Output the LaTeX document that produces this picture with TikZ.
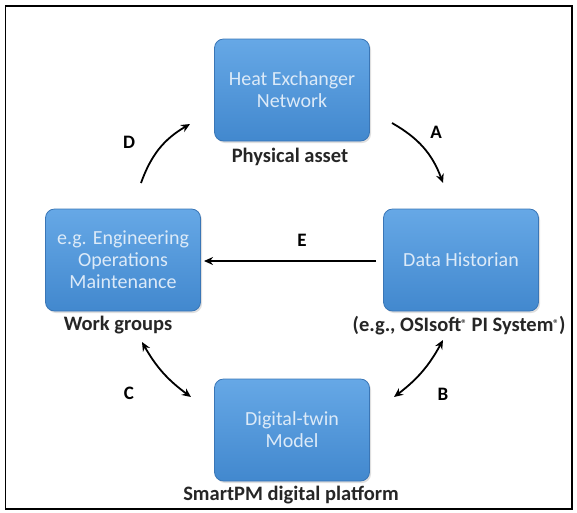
\documentclass[tikz,border=0pt]{standalone}
\usepackage{fontspec}
\setmainfont{Carlito}
\usetikzlibrary{arrows.meta,shadows}
\definecolor{boxtop}{HTML}{66A8E6}
\definecolor{boxbot}{HTML}{4288CE}
\definecolor{boxedge}{HTML}{3A76B6}
\definecolor{boxtext}{HTML}{DCEAF8}
\tikzset{
  bluebox/.style={rectangle, rounded corners=9pt, minimum width=155pt, minimum height=102pt,
    top color=boxtop, bottom color=boxbot, draw=boxedge, line width=0.8pt,
    text=boxtext, align=center, font=\fontsize{20}{22}\selectfont,
    drop shadow={shadow xshift=1.5pt, shadow yshift=-2pt, opacity=0.25}},
  caption/.style={font=\fontsize{20.5}{22}\selectfont\bfseries, text=black!85, inner sep=0pt},
  letter/.style={font=\fontsize{19}{20}\selectfont\bfseries, inner sep=0pt},
  arr/.style={line width=1.8pt, -{Stealth[length=9pt,width=8pt]}},
  darr/.style={line width=1.8pt, {Stealth[length=9pt,width=8pt]}-{Stealth[length=9pt,width=8pt]}},
}
\newcommand{\regmark}{\raisebox{0.45ex}{\fontsize{11}{11}\selectfont\textregistered}}
\begin{document}
\begin{tikzpicture}[x=1pt,y=-1pt]
\useasboundingbox (0,0) rectangle (577,512);
\draw[line width=1.4pt] (5.5,6) rectangle (572,509);

\node[bluebox] (heat) at (292,90) {Heat Exchanger\\Network};
\node[bluebox] (hist) at (461,260) {Data Historian};
\node[bluebox] (work) at (123,260) {e.g. Engineering\\Operations\\Maintenance};
\node[bluebox] (twin) at (292,430) {Digital-twin\\Model};

\node[caption] (lphys) at (290,157) {Physical asset};
\node[caption] (lwork) at (118,325) {Work groups};
\node[caption] (lhist) at (459,326) {(e.g., OSIsoft\regmark{} PI System\regmark)};
\node[caption] (ltwin) at (291,495) {SmartPM digital platform};

\coordinate (a1) at (392,123);
\coordinate (a2) at (443,183);
\coordinate (d1) at (141,183);
\coordinate (d2) at (190,124);
\coordinate (c1) at (142,342);
\coordinate (c2) at (191,397);
\coordinate (b1) at (443,340);
\coordinate (b2) at (394,397);
\coordinate (e1) at (376,261);
\coordinate (e2) at (204,261);

\draw[arr] (a1) to[bend left=20] (a2);
\draw[arr] (d1) to[bend left=20] (d2);
\draw[darr] (c1) to[bend right=12] (c2);
\draw[darr] (b1) to[bend left=12] (b2);
\draw[arr] (e1) -- (e2);

\node[letter] (la) at (436,132) {A};
\node[letter] (ld) at (129,142) {D};
\node[letter] (lc) at (129,393) {C};
\node[letter] (lb) at (443,394) {B};
\node[letter] (le) at (302,240) {E};
\end{tikzpicture}
\end{document}
